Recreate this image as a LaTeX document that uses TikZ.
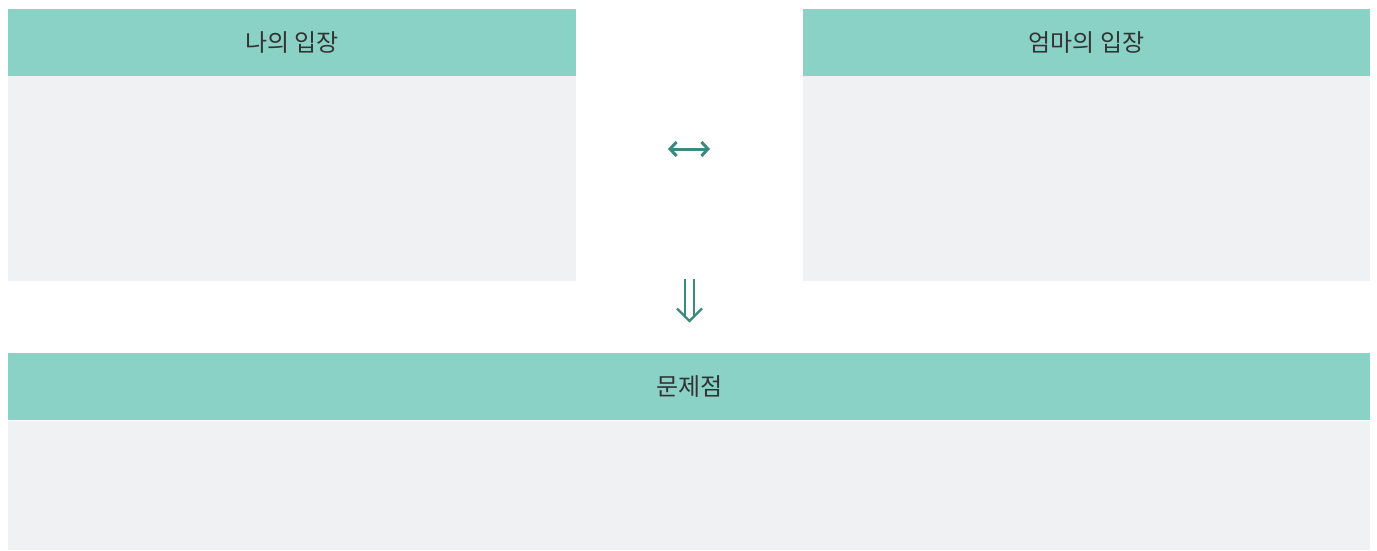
\documentclass[tikz,border=0pt]{standalone}
\usepackage{fontspec}
\newfontfamily\kr{Noto Sans CJK KR}
\usetikzlibrary{arrows.meta}
\definecolor{headc}{HTML}{8AD1C6}
\definecolor{bodyc}{HTML}{F0F1F3}
\definecolor{arrc}{HTML}{3A8A80}
\definecolor{txtc}{HTML}{333333}
\tikzset{
  headbox/.style={fill=headc, draw=none, inner sep=0pt, font=\kr\fontsize{24}{28}\selectfont, text=txtc},
  bodybox/.style={fill=bodyc, draw=none}
}
\begin{document}
\begin{tikzpicture}[x=1pt,y=-1pt]
\useasboundingbox (0,0) rectangle (1377,551);
% left
\fill[bodybox] (8,76) rectangle (576,281);
\node[headbox, minimum width=568pt, minimum height=67pt, anchor=north west] (lh) at (8,9) {나의 입장};
% right
\fill[bodybox] (803,76) rectangle (1370,281);
\node[headbox, minimum width=567pt, minimum height=67pt, anchor=north west] (rh) at (803,9) {엄마의 입장};
% bottom
\fill[bodybox] (8,421) rectangle (1370,550);
\node[headbox, minimum width=1362pt, minimum height=67pt, anchor=north west] (bh) at (8,353) {문제점};
% double-headed arrow
\coordinate (al) at (668,149);
\coordinate (ar) at (710,149);
\draw[draw=arrc, line width=3pt, {Straight Barb[length=6.5pt,width=14pt,line width=3pt]}-{Straight Barb[length=6.5pt,width=14pt,line width=3pt]}] (al) -- (ar);
% double down arrow
\coordinate (dt) at (689.5,279);
\coordinate (db) at (689.5,321);
\draw[draw=arrc, line width=2.2pt] ([xshift=-4.5pt]dt) -- ([xshift=-4.5pt,yshift=5pt]db);
\draw[draw=arrc, line width=2.2pt] ([xshift=4.5pt]dt) -- ([xshift=4.5pt,yshift=5pt]db);
\draw[draw=arrc, line width=2.2pt, line join=miter] ([xshift=-12.5pt,yshift=12.5pt]db) -- (db) -- ([xshift=12.5pt,yshift=12.5pt]db);
\end{tikzpicture}
\end{document}
